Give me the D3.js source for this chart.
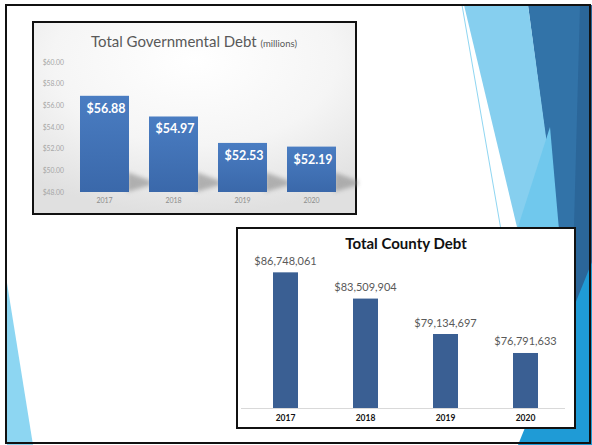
<!DOCTYPE html>
<html>
<head>
<meta charset="utf-8">
<script src="https://cdn.jsdelivr.net/npm/d3@7/dist/d3.min.js"></script>
<style>
  html, body { margin: 0; padding: 0; background: #fff; }
  svg { display: block; }
</style>
</head>
<body>
<svg id="slide" width="592" height="445"></svg>
<script>
// ---- Data ----
const years = ["2017", "2018", "2019", "2020"];
const govDebtMillions = [56.88, 54.97, 52.53, 52.19];
const govTicks = [48, 50, 52, 54, 56, 58, 60];
const countyDebt = [86748061, 83509904, 79134697, 76791633];

const svg = d3.select("#slide");
const defs = svg.append("defs");

// ---- Slide decoration (theme facets) ----
const facets = [
  { pts: [[528,5],[592,5],[592,445],[586,445]], fill: "#3273a8" },
  { pts: [[580,5],[592,5],[592,445],[568,445]], fill: "#2b6699" },
  { pts: [[464,5],[528,5],[588,445],[569,445]], fill: "#86cfef" },
  { pts: [[550,127],[559,230],[517,230]], fill: "#70c8ed" },
  { pts: [[592,262],[592,445],[518,445]], fill: "#1f9bd6" },
  { pts: [[7,283],[7,445],[33,445]], fill: "#8dd6f2" }
];
svg.selectAll("polygon.facet").data(facets).join("polygon")
  .attr("class", "facet")
  .attr("points", d => d.pts.map(p => p.join(",")).join(" "))
  .attr("fill", d => d.fill);
svg.append("line")
  .attr("x1", 462).attr("y1", 5).attr("x2", 501).attr("y2", 230)
  .attr("stroke", "#8fd6f2").attr("stroke-width", 1);

// ---- Top chart: Total Governmental Debt ----
const bg = defs.append("radialGradient").attr("id", "govBg")
  .attr("cx", "50%").attr("cy", "20%").attr("r", "80%");
bg.append("stop").attr("offset", "0%").attr("stop-color", "#ffffff");
bg.append("stop").attr("offset", "55%").attr("stop-color", "#f5f5f5");
bg.append("stop").attr("offset", "100%").attr("stop-color", "#e0e0e0");

const barGrad = defs.append("linearGradient").attr("id", "govBar")
  .attr("x1", 0).attr("y1", 0).attr("x2", 0).attr("y2", 1);
barGrad.append("stop").attr("offset", "0%").attr("stop-color", "#4a7dc2");
barGrad.append("stop").attr("offset", "100%").attr("stop-color", "#3a68aa");

const blur = defs.append("filter").attr("id", "shadowBlur")
  .attr("x", "-50%").attr("y", "-50%").attr("width", "200%").attr("height", "200%");
blur.append("feGaussianBlur").attr("stdDeviation", 2.2);

const govG = svg.append("g");
govG.append("rect")
  .attr("x", 33).attr("y", 22).attr("width", 323).attr("height", 192)
  .attr("fill", "url(#govBg)").attr("stroke", "#111").attr("stroke-width", 2);

const gx = d3.scaleBand().domain(years).range([70, 346]).paddingInner(0.29).paddingOuter(0.145);
const gy = d3.scaleLinear().domain([48, 60]).range([192, 62]);

const title1 = govG.append("text")
  .attr("x", 194).attr("y", 47).attr("text-anchor", "middle")
  .attr("font-family", "Lato, 'Open Sans', sans-serif").attr("fill", "#595959");
title1.append("tspan").attr("font-size", 15).text("Total Governmental Debt ");
title1.append("tspan").attr("font-size", 9.5).text("(millions)");

// y axis labels
const gAxisY = govG.append("g").attr("transform", "translate(64,0)")
  .call(d3.axisLeft(gy).tickValues(govTicks).tickSize(0).tickPadding(0)
    .tickFormat(d => "$" + d3.format(".2f")(d)));
gAxisY.select(".domain").remove();
gAxisY.selectAll("text")
  .attr("font-family", "Lato, 'Open Sans', sans-serif").attr("font-size", 6.8).attr("fill", "#a6a6a6");

// x axis labels
const gAxisX = govG.append("g").attr("transform", "translate(0,196)")
  .call(d3.axisBottom(gx).tickSize(0).tickPadding(2));
gAxisX.select(".domain").remove();
gAxisX.selectAll("text")
  .attr("font-family", "Lato, 'Open Sans', sans-serif").attr("font-size", 7).attr("fill", "#8c8c8c");

const govData = years.map((y, i) => ({ year: y, value: govDebtMillions[i] }));

// perspective shadows behind bars
govG.selectAll("polygon.shadow").data(govData).join("polygon")
  .attr("class", "shadow")
  .attr("points", d => {
    const r = gx(d.year) + gx.bandwidth();
    const b = gy(48);
    return [[r - 2, b - 20], [r + 22, b - 11], [r + 22, b - 7], [r - 2, b]].map(p => p.join(",")).join(" ");
  })
  .attr("fill", "#8a8a8a").attr("opacity", 0.6).attr("filter", "url(#shadowBlur)");

govG.selectAll("rect.bar").data(govData).join("rect")
  .attr("class", "bar")
  .attr("x", d => gx(d.year)).attr("width", gx.bandwidth())
  .attr("y", d => gy(d.value)).attr("height", d => gy(48) - gy(d.value))
  .attr("fill", "url(#govBar)");

govG.selectAll("text.val").data(govData).join("text")
  .attr("class", "val")
  .attr("x", d => gx(d.year) + gx.bandwidth() / 2 + 1.5)
  .attr("y", d => gy(d.value) + 17)
  .attr("text-anchor", "middle")
  .attr("font-family", "Lato, 'Open Sans', sans-serif").attr("font-weight", "bold")
  .attr("font-size", 12.5).attr("fill", "#ffffff")
  .text(d => "$" + d3.format(".2f")(d.value));

// ---- Bottom chart: Total County Debt ----
const countyG = svg.append("g");
countyG.append("rect")
  .attr("x", 237).attr("y", 228).attr("width", 338).attr("height", 200)
  .attr("fill", "#ffffff").attr("stroke", "#111").attr("stroke-width", 2);

countyG.append("text")
  .attr("x", 406).attr("y", 249).attr("text-anchor", "middle")
  .attr("font-family", "Lato, 'Open Sans', sans-serif").attr("font-weight", "bold")
  .attr("font-size", 15).attr("fill", "#111")
  .text("Total County Debt");

const cx = d3.scaleBand().domain(years).range([245.5, 565.5]).paddingInner(0.6875).paddingOuter(0.34375);
const cy = d3.scaleLinear().domain([70000000, 90000000]).range([408, 246]);

const countyData = years.map((y, i) => ({ year: y, value: countyDebt[i] }));

countyG.selectAll("rect.bar").data(countyData).join("rect")
  .attr("class", "bar")
  .attr("x", d => cx(d.year)).attr("width", cx.bandwidth())
  .attr("y", d => cy(d.value)).attr("height", d => cy.range()[0] - cy(d.value))
  .attr("fill", "#3a5f93");

// category axis with its baseline spanning the plot area
countyG.append("line")
  .attr("x1", 241).attr("x2", 565).attr("y1", 408.5).attr("y2", 408.5)
  .attr("stroke", "#d9d9d9").attr("stroke-width", 1);
const cAxisX = countyG.append("g").attr("transform", "translate(0,408)")
  .call(d3.axisBottom(cx).tickSize(0).tickPadding(7));
cAxisX.select(".domain").remove();
cAxisX.selectAll("text")
  .attr("font-family", "Lato, 'Open Sans', sans-serif").attr("font-weight", "bold")
  .attr("font-size", 8.5).attr("fill", "#111");

countyG.selectAll("text.val").data(countyData).join("text")
  .attr("class", "val")
  .attr("x", d => cx(d.year) + cx.bandwidth() / 2)
  .attr("y", d => cy(d.value) - 7.5)
  .attr("text-anchor", "middle")
  .attr("font-family", "Lato, 'Open Sans', sans-serif")
  .attr("font-size", 11).attr("fill", "#595959")
  .text(d => "$" + d3.format(",")(d.value));

// ---- Slide frame ----
svg.append("rect")
  .attr("x", 6).attr("y", 5).attr("width", 584).attr("height", 438)
  .attr("fill", "none").attr("stroke", "#111").attr("stroke-width", 2);
</script>
</body>
</html>
